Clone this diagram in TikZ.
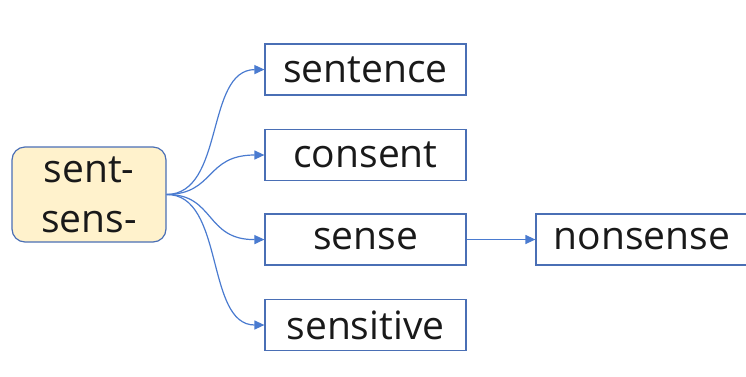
\documentclass[tikz,border=0pt]{standalone}
\usepackage{fontspec}
\setmainfont{Open Sans}
\usetikzlibrary{arrows.meta}
\definecolor{bord}{HTML}{4A6FB5}
\definecolor{linec}{HTML}{4A7BD0}
\definecolor{rootfill}{HTML}{FFF2CC}
\tikzset{
  wordbox/.style={draw=bord, line width=1.2pt, minimum width=201pt, minimum height=51pt, inner sep=0pt, font=\fontsize{39}{42}\selectfont, text=black!90},
  rootbox/.style={draw=bord, line width=1.2pt, fill=rootfill, rounded corners=13pt, minimum width=154pt, minimum height=95pt, inner sep=0pt, align=center, font=\fontsize{39}{50}\selectfont, text=black!90},
  conn/.style={draw=linec, line width=1.2pt, -{Triangle[length=10pt,width=9pt]}}
}
\begin{document}
\begin{tikzpicture}[x=1pt,y=-1pt]
\useasboundingbox (0,0) rectangle (746,376);
\node[rootbox] (root) at (89,194.5) {sent-\\sens-};
\node[wordbox] (sentence) at (365.5,69.5) {sentence};
\node[wordbox] (consent) at (365.5,155) {consent};
\node[wordbox] (sense) at (365.5,239.5) {sense};
\node[wordbox] (sensitive) at (365.5,325) {sensitive};
\node[wordbox, minimum width=212pt] (nonsense) at (642,239.5) {nonsense};
\draw[conn] (root.east) .. controls (225,194) and (205,70) .. (sentence.west);
\draw[conn] (root.east) .. controls (215,194) and (205,155) .. (consent.west);
\draw[conn] (root.east) .. controls (215,194) and (205,240) .. (sense.west);
\draw[conn] (root.east) .. controls (225,194) and (205,325) .. (sensitive.west);
\draw[conn] (sense.east) -- (nonsense.west);
\end{tikzpicture}
\end{document}
